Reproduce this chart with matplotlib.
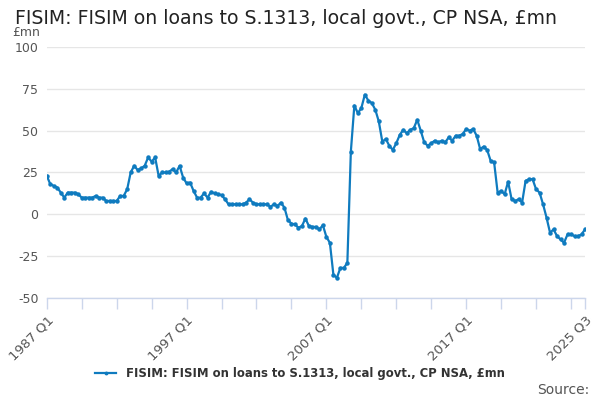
import matplotlib
matplotlib.use('Agg')
from matplotlib import pyplot as plt

# quarterly values, 1987 Q1 .. 2025 Q3
values = [
    23, 18, 17, 16, 13, 10, 13, 13, 13, 12,
    10, 10, 10, 10, 11, 10, 10, 8, 8, 8,
    8, 11, 11, 15, 25, 29, 26.5, 27.5, 29, 34,
    31.5, 34, 23, 25, 25, 25.5, 27, 25, 29, 22,
    18.5, 19, 14, 10, 10, 12.5, 10, 13.5, 12.5, 12,
    11.5, 9, 6, 6, 6, 6, 6, 7, 9, 7,
    6, 6, 6, 6, 4.5, 6, 5, 7, 4, -3.5,
    -5.5, -6, -8, -7, -2.5, -7, -7.5, -7.5, -9, -6.5,
    -13.5, -17, -36, -38, -32, -32, -29, 37.5, 65, 60.5,
    63.5, 71.5, 68, 66.5, 62.5, 55.5, 43.5, 45, 41, 38.5,
    42.5, 47.5, 50.5, 48.5, 50.5, 51.5, 56.5, 50, 43, 41,
    42.5, 44, 43, 44, 43, 46, 44, 47, 47, 48,
    51, 50, 51, 47, 39, 40.5, 38.5, 32, 31, 13,
    14, 12, 19.5, 9, 8, 9, 7, 20, 21, 21,
    15, 13, 6, -2, -11, -9, -13, -15, -17, -12,
    -12, -13, -13, -12, -9,
]
labels = []
for y in range(1987, 2026):
    for q in range(1, 5):
        labels.append(f"{y} Q{q}")
labels = labels[:len(values)]
assert len(values) == 155

label_idx = [0, 40, 80, 120, 154]
yticks = [-50, -25, 0, 25, 50, 75, 100]

blue = '#0f7bbf'
grey = '#555555'
axis_col = '#ccd6eb'

fig = plt.figure(figsize=(6, 4), dpi=100)
ax = fig.add_axes([0.078, 0.255, 0.897, 0.6275])

x = list(range(len(values)))
ax.plot(x, values, color=blue, lw=1.6, marker='o', ms=2.2, zorder=3,
        label='FISIM: FISIM on loans to S.1313, local govt., CP NSA, £mn')

ax.set_ylim(-50, 100)
ax.set_xlim(0, len(values) - 1)
ax.set_yticks(yticks)
ax.set_yticklabels([str(v) for v in yticks], color=grey, fontsize=9)
ax.grid(axis='y', color='#e6e6e6', lw=1)
ax.set_axisbelow(True)

for s in ['left', 'right', 'top']:
    ax.spines[s].set_visible(False)
ax.spines['bottom'].set_color(axis_col)
ax.spines['bottom'].set_linewidth(1)

ax.tick_params(axis='y', length=0, pad=6)
minor = list(range(0, len(values), 10)) + [len(values) - 1]
ax.set_xticks(minor, minor=True)
ax.set_xticks(label_idx)
ax.set_xticklabels([labels[i] for i in label_idx], rotation=45, ha='right',
                   rotation_mode='anchor', color=grey, fontsize=9.5)
ax.tick_params(axis='x', which='both', length=8, color=axis_col, width=1)

fig.text(0.025, 0.955, 'FISIM: FISIM on loans to S.1313, local govt., CP NSA, £mn',
         fontsize=13.6, color='#222222', va='center')
fig.text(0.02, 0.918, '£mn', fontsize=9, color=grey, va='center')

leg = fig.legend(loc='center', bbox_to_anchor=(0.5, 0.067), frameon=False,
                 fontsize=8.4, handlelength=1.8, markerscale=0.8)
for t in leg.get_texts():
    t.set_fontweight('bold')
    t.set_color('#333333')
fig.text(0.982, 0.025, 'Source:', fontsize=10, color=grey, ha='right', va='center')

fig.savefig('out.png', dpi=100)
